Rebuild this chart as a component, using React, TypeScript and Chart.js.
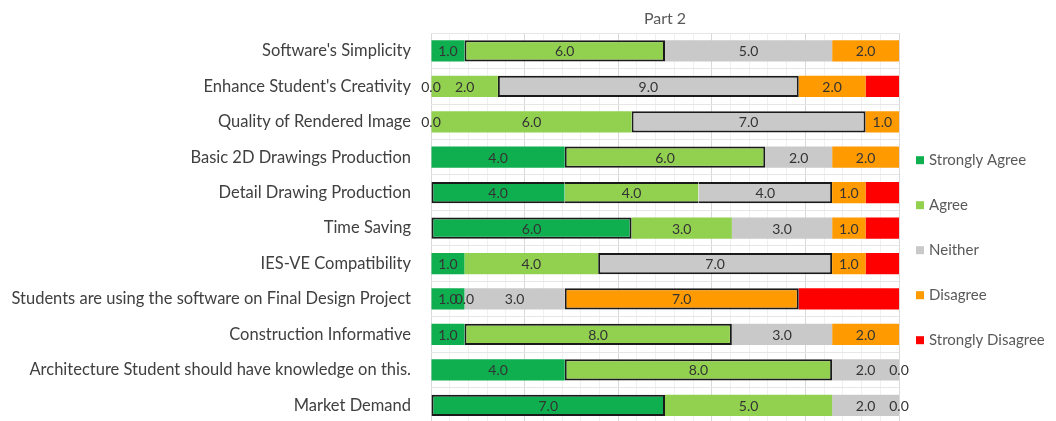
import React, { useEffect, useRef } from 'react';
import { Chart, registerables } from 'chart.js';

Chart.register(...registerables);

const categories = [
  "Software's Simplicity",
  "Enhance Student's Creativity",
  'Quality of Rendered Image',
  'Basic 2D Drawings Production',
  'Detail Drawing Production',
  'Time Saving',
  'IES-VE Compatibility',
  'Students are using the software on Final Design Project',
  'Construction Informative',
  'Architecture Student should have knowledge on this.',
  'Market Demand',
];
const seriesNames = ['Strongly Agree', 'Agree', 'Neither', 'Disagree', 'Strongly Disagree'];
const stronglyAgree = [1, 0, 0, 4, 4, 6, 1, 1, 1, 4, 7];
const agree = [6, 2, 6, 6, 4, 3, 4, 0, 8, 8, 5];
const neither = [5, 9, 7, 2, 4, 3, 7, 3, 3, 2, 2];
const disagree = [2, 2, 1, 2, 1, 1, 1, 7, 2, 0, 0];
const stronglyDisagree = [0, 1, 0, 0, 1, 1, 1, 3, 0, 0, 0];
const seriesColors = ['#0FAF50', '#92D050', '#C9C9C9', '#FF9A00', '#FF0000'];
const showValueLabels = [true, true, true, true, false];
const xMax = 14;

const allSeries = [stronglyAgree, agree, neither, disagree, stronglyDisagree];
const rowMax = categories.map((_, r) => Math.max(...allSeries.map((s) => s[r])));
const isHighlighted = (s: number, r: number) =>
  s >= 0 && s < allSeries.length && allSeries[s][r] > 0 && allSeries[s][r] === rowMax[r];

const FONT = 'Lato, "Open Sans", sans-serif';

const valueLabels = {
  id: 'valueLabels',
  afterDatasetsDraw(chart: any) {
    const ctx = chart.ctx;
    ctx.save();
    ctx.font = `14px ${FONT}`;
    ctx.fillStyle = '#333333';
    ctx.textAlign = 'center';
    ctx.textBaseline = 'middle';
    chart.data.datasets.forEach((ds: any, di: number) => {
      if (!showValueLabels[di]) return;
      const meta = chart.getDatasetMeta(di);
      meta.data.forEach((el: any, i: number) => {
        const v = ds.data[i] as number;
        const p = el.getProps(['x', 'y', 'base'], true);
        ctx.fillText(v.toFixed(1), (p.x + p.base) / 2, p.y + 1);
      });
    });
    ctx.restore();
  },
};

const sideLegend = {
  id: 'sideLegend',
  afterDraw(chart: any) {
    const { ctx, chartArea } = chart;
    ctx.save();
    ctx.font = `15px ${FONT}`;
    ctx.textAlign = 'left';
    ctx.textBaseline = 'middle';
    const x0 = chartArea.right + 17;
    const y0 = chartArea.top + 127;
    const step = 45;
    chart.data.datasets.forEach((ds: any, i: number) => {
      const y = y0 + i * step;
      ctx.fillStyle = ds.backgroundColor;
      ctx.fillRect(x0, y - 4, 8, 8);
      ctx.fillStyle = '#595959';
      ctx.fillText(ds.label, x0 + 13, y);
    });
    ctx.restore();
  },
};

export default function App() {
  const canvasRef = useRef<HTMLCanvasElement | null>(null);

  useEffect(() => {
    if (!canvasRef.current) return;
    const chart = new Chart(canvasRef.current, {
      type: 'bar',
      data: {
        labels: categories,
        datasets: allSeries.map((values, s) => ({
          label: seriesNames[s],
          data: values,
          backgroundColor: seriesColors[s],
          borderColor: '#1a1a1a',
          borderSkipped: false,
          borderWidth: (c: any) => {
            const r = c.dataIndex;
            if (!isHighlighted(s, r)) return 0;
            return {
              top: 2,
              bottom: 2,
              left: isHighlighted(s - 1, r) ? 0 : 2,
              right: isHighlighted(s + 1, r) ? 0 : 2,
            };
          },
          categoryPercentage: 1,
          barPercentage: 0.6,
        })),
      },
      options: {
        indexAxis: 'y',
        responsive: false,
        animation: false,
        layout: { padding: { left: 0, right: 157, top: 0, bottom: 1 } },
        plugins: {
          legend: { display: false },
          tooltip: { enabled: false },
          title: {
            display: true,
            text: 'Part 2',
            color: '#595959',
            fullSize: false,
            font: { family: FONT, size: 16, weight: 'normal' },
            padding: { top: 9, bottom: 5 },
          },
        },
        scales: {
          x: {
            stacked: true,
            min: 0,
            max: xMax,
            ticks: { display: false, stepSize: xMax / 25 },
            border: { display: false },
            grid: {
              drawTicks: false,
              color: (c: any) => (c.index % 5 === 0 ? '#d9d9d9' : '#f0f0f0'),
            },
            afterFit: (scale: any) => {
              scale.height = 0;
              scale.paddingLeft = 0;
              scale.paddingRight = 0;
            },
          },
          y: {
            stacked: true,
            border: { display: false },
            grid: { drawTicks: false, color: '#e6e6e6', offset: true },
            ticks: {
              color: '#404040',
              padding: 20,
              font: { family: FONT, size: 16.5 },
            },
            afterFit: (scale: any) => {
              scale.width = 431;
              scale.paddingTop = 0;
              scale.paddingBottom = 0;
            },
          },
        },
      },
      plugins: [valueLabels, sideLegend],
    } as any);
    return () => chart.destroy();
  }, []);

  return (
    <div
      style={{
        position: 'fixed',
        left: 0,
        top: 0,
        width: 1056,
        height: 421,
        overflow: 'hidden',
        background: '#ffffff',
      }}
    >
      <canvas ref={canvasRef} width={1056} height={424} style={{ display: 'block', width: 1056, height: 424 }} />
    </div>
  );
}
